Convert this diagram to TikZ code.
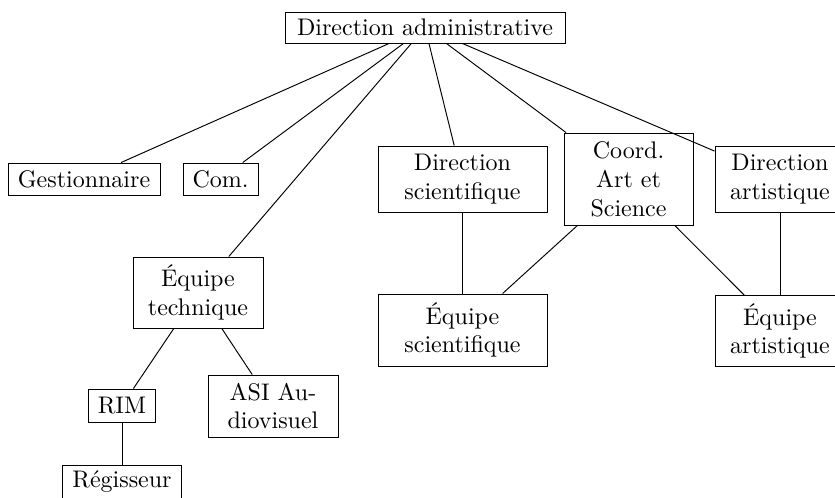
\documentclass[tikz,border=0pt]{standalone}
\begin{document}
\begin{tikzpicture}[x=0.4167pt,y=-0.4167pt,
  bx/.style 2 args={draw, align=center, inner sep=0pt, minimum width=#1*0.4167pt, minimum height=#2*0.4167pt}]
\useasboundingbox (0,0) rectangle (835,497);
\node[bx={280}{31}] (DA) at (425,27.5) {Direction administrative};
\node[bx={152}{32}] (Gest) at (84,179) {Gestionnaire};
\node[bx={75}{32}] (Com) at (220.5,179) {Com.};
\node[bx={169}{66}] (DS) at (462.5,179) {Direction\\scientifique};
\node[bx={129}{92}] (Coord) at (628.5,179) {Coord.\\Art et\\Science};
\node[bx={130}{66}] (DArt) at (780,179) {Direction\\artistique};
\node[bx={130}{71}] (EqT) at (198,292.5) {Équipe\\technique};
\node[bx={169}{72}] (EqS) at (462.5,330) {Équipe\\scientifique};
\node[bx={130}{71}] (EqA) at (780,331) {Équipe\\artistique};
\node[bx={67}{33}] (RIM) at (122,405.5) {RIM};
\node[bx={130}{62}] (ASI) at (273,406) {ASI Au-\\diovisuel};
\node[bx={119}{33}] (Reg) at (122,481.5) {Régisseur};
\draw (DA) -- (Gest);
\draw (DA) -- (Com);
\draw (DA) -- (EqT);
\draw (DA) -- (DS);
\draw (DA) -- (Coord);
\draw (DA) -- (DArt);
\draw (DS) -- (EqS);
\draw (Coord) -- (EqS);
\draw (Coord) -- (EqA);
\draw (DArt) -- (EqA);
\draw (EqT) -- (RIM);
\draw (EqT) -- (ASI);
\draw (RIM) -- (Reg);
\end{tikzpicture}
\end{document}
